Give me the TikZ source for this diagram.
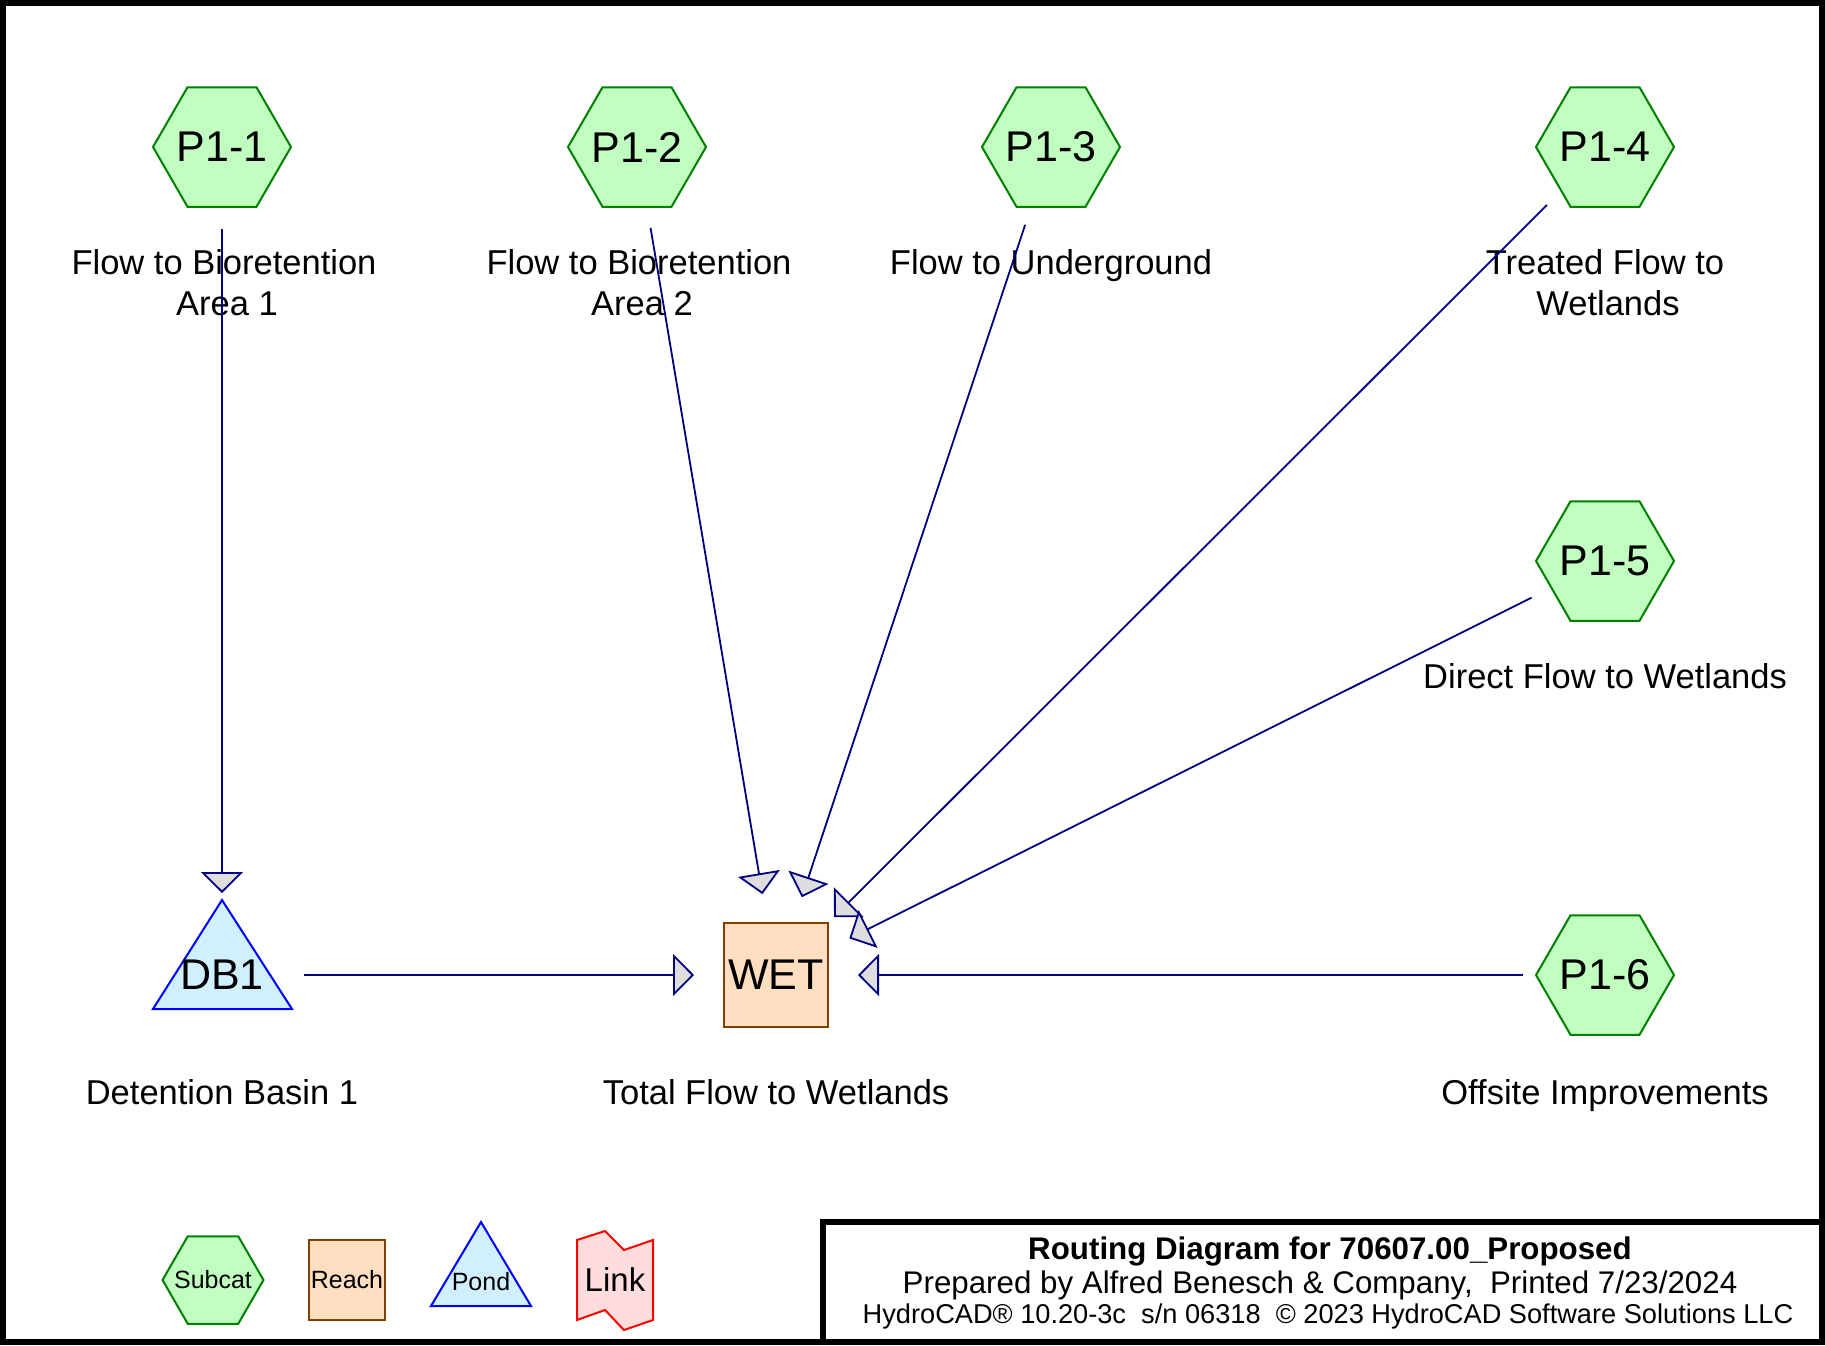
\documentclass[tikz,border=0pt]{standalone}
\usepackage{fontspec}
\setmainfont{Liberation Sans}
\usetikzlibrary{shapes.geometric,arrows.meta}

\definecolor{subfill}{RGB}{192,255,192}
\definecolor{subline}{RGB}{0,128,0}
\definecolor{reachfill}{RGB}{255,223,191}
\definecolor{reachline}{RGB}{128,64,0}
\definecolor{pondfill}{RGB}{208,240,255}
\definecolor{pondline}{RGB}{0,0,255}
\definecolor{linkfill}{RGB}{255,221,221}
\definecolor{linkline}{RGB}{255,0,0}
\definecolor{flowline}{RGB}{0,0,128}
\definecolor{tipfill}{RGB}{221,221,221}

% texto sin ancho, para que no agrande el hexagono
\newcommand{\hextext}[1]{\makebox[0pt]{#1}}

\begin{document}
\begin{tikzpicture}[x=1pt,y=-1pt,
    subcat/.style={regular polygon,regular polygon sides=6,minimum size=138pt,inner sep=0pt,
      draw=subline,fill=subfill,line width=2pt,font=\fontsize{43}{50}\selectfont},
    reach/.style={rectangle,minimum size=104pt,inner sep=0pt,
      draw=reachline,fill=reachfill,line width=2pt,font=\fontsize{43}{50}\selectfont},
    pond/.style={draw=pondline,fill=pondfill,line width=2pt},
    bigtext/.style={inner sep=0pt,font=\fontsize{43}{50}\selectfont},
    caption/.style={inner sep=0pt,align=center,anchor=north,font=\fontsize{34.5}{41}\selectfont},
    legend/.style={inner sep=0pt,font=\fontsize{25}{30}\selectfont},
    flow/.style={draw=flowline,line width=1.8pt,shorten <=82pt,shorten >=82pt,
      -{Triangle[length=21pt,width=42pt,fill=tipfill]}}]
    \useasboundingbox (0,0) rectangle (1825,1345);

    % Marco
    \draw[line width=6pt] (3,3) rectangle (1822,1342);

    % Subcuencas
    \node[subcat] (p11) at (222,147) {\hextext{P1-1}};
    \node[subcat] (p12) at (637,147) {\hextext{P1-2}};
    \node[subcat] (p13) at (1051,147) {\hextext{P1-3}};
    \node[subcat] (p14) at (1605,147) {\hextext{P1-4}};
    \node[subcat] (p15) at (1605,561) {\hextext{P1-5}};
    \node[subcat] (p16) at (1605,975) {\hextext{P1-6}};

    % Estanque DB1
    \filldraw[pond] (222,900) -- (292,1009) -- (153,1009) -- cycle;
    \node[bigtext] (db1) at (222,975) {DB1};

    % Tramo WET
    \node[reach] (wet) at (776,975) {WET};

    % Textos
    \node[caption] (p11txt) at (224,249) {Flow to Bioretention\\\hspace*{6pt}Area 1};
    \node[caption] (p12txt) at (639,249) {Flow to Bioretention\\\hspace*{6pt}Area 2};
    \node[caption] (p13txt) at (1051,249) {Flow to Underground};
    \node[caption] (p14txt) at (1605,249) {Treated Flow to\\\hspace*{6pt}Wetlands};
    \node[caption] (p15txt) at (1605,663) {Direct Flow to Wetlands};
    \node[caption] (p16txt) at (1605,1079) {Offsite Improvements};
    \node[caption] (db1txt) at (222,1079) {Detention Basin 1};
    \node[caption] (wettxt) at (776,1079) {Total Flow to Wetlands};

    % Flujos
    \draw[flow] (p11.center) -- (db1.center);
    \draw[flow] (p12.center) -- (wet.center);
    \draw[flow] (p13.center) -- (wet.center);
    \draw[flow] (p14.center) -- (wet.center);
    \draw[flow] (p15.center) -- (wet.center);
    \draw[flow] (db1.center) -- (wet.center);
    \draw[flow] (p16.center) -- (wet.center);

    % Leyenda
    \node[subcat,minimum size=101pt,font=\fontsize{25}{30}\selectfont] (legsub) at (213,1280) {\hextext{Subcat}};
    \node[reach,minimum width=76pt,minimum height=80pt,font=\fontsize{25}{30}\selectfont] (legreach) at (347,1280) {Reach};
    \filldraw[pond] (481,1222) -- (531,1306) -- (431,1306) -- cycle;
    \node[legend] (legpond) at (481,1282) {Pond};
    \filldraw[draw=linkline,fill=linkfill,line width=2pt] (577,1240) -- (605,1231) -- (624,1250) -- (653,1240)
      -- (653,1320) -- (624,1330) -- (605,1310) -- (577,1320) -- cycle;
    \node[legend,font=\fontsize{33}{40}\selectfont] (leglink) at (615,1280) {Link};

    % Cuadro de titulo
    \draw[line width=6pt,fill=white] (823,1222) rectangle (1822,1342);
    \node[anchor=base,font=\bfseries\fontsize{31.3}{36}\selectfont] (title) at (1330,1259) {Routing Diagram for 70607.00\_Proposed};
    \node[anchor=base,font=\fontsize{31.3}{36}\selectfont] (prepared) at (1320,1293) {Prepared by Alfred Benesch \& Company,\ \ Printed 7/23/2024};
    \node[anchor=base,font=\fontsize{27.2}{32}\selectfont] (software) at (1328,1323) {HydroCAD® 10.20-3c\ \ s/n 06318\ \ © 2023 HydroCAD Software Solutions LLC};
\end{tikzpicture}
\end{document}
